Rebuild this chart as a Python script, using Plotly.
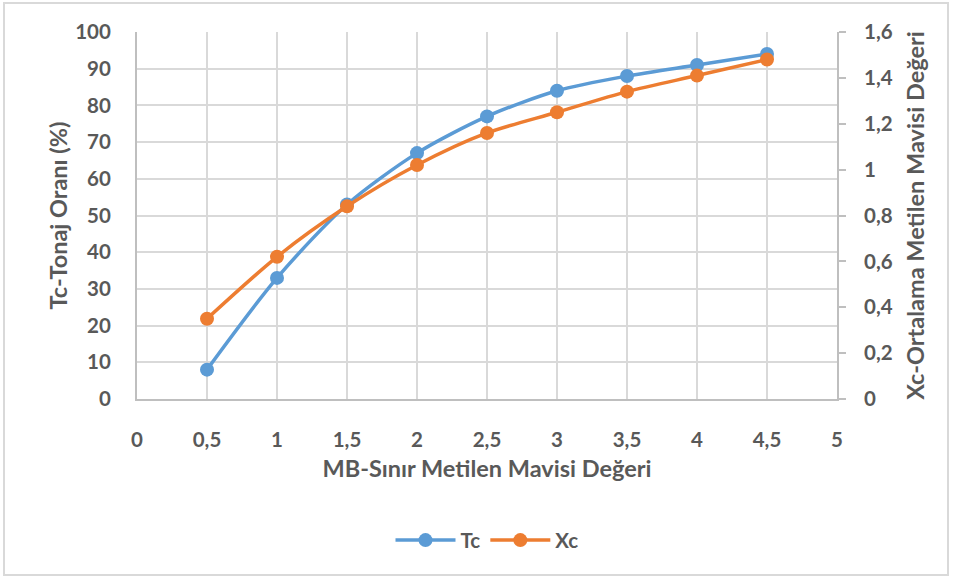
import plotly.graph_objects as go

x_vals = [0.5, 1, 1.5, 2, 2.5, 3, 3.5, 4, 4.5]
tc_vals = [8, 33, 53, 67, 77, 84, 88, 91, 94]
xc_vals = [0.35, 0.62, 0.84, 1.02, 1.16, 1.25, 1.34, 1.41, 1.48]

x_ticks = [0, 0.5, 1, 1.5, 2, 2.5, 3, 3.5, 4, 4.5, 5]
y1_ticks = [0, 10, 20, 30, 40, 50, 60, 70, 80, 90, 100]
y2_ticks = [0, 0.2, 0.4, 0.6, 0.8, 1, 1.2, 1.4, 1.6]

BLUE = "#5B9BD5"
ORANGE = "#ED7D31"
TXT = "#595959"
GRID = "#D9D9D9"
FONT = "Lato"

fig = go.Figure()
fig.add_trace(go.Scatter(x=x_vals, y=tc_vals, name="Tc", mode="lines+markers",
                         line=dict(color=BLUE, width=3.5, shape="spline", smoothing=0.8),
                         marker=dict(color=BLUE, size=14), yaxis="y"))
fig.add_trace(go.Scatter(x=x_vals, y=xc_vals, name="Xc", mode="lines+markers",
                         line=dict(color=ORANGE, width=3.5, shape="spline", smoothing=0.8),
                         marker=dict(color=ORANGE, size=14), yaxis="y2"))

tickfont = dict(family=FONT, size=20.5, color=TXT, weight="bold")
titlefont = dict(family=FONT, size=23.5, color=TXT, weight="bold")

fig.update_layout(
    width=953, height=578,
    margin=dict(l=137, r=116, t=32, b=179),
    paper_bgcolor="white", plot_bgcolor="white",
    separators=",.",
    showlegend=True,
    legend=dict(orientation="h", x=0.5, xanchor="center", y=-0.385, yanchor="middle",
                font=dict(family=FONT, size=20.5, color=TXT, weight="bold"),
                itemwidth=60, traceorder="normal"),
    xaxis=dict(range=[0, 5], tickvals=x_ticks, showgrid=True, gridcolor=GRID, gridwidth=2,
               showline=True, linecolor="#BFBFBF", linewidth=2, zeroline=False,
               tickfont=tickfont, ticks="", ticklabelstandoff=21,
               title=dict(text="MB-Sınır Metilen Mavisi Değeri", font=titlefont, standoff=11)),
    yaxis=dict(range=[0, 100], tickvals=y1_ticks, showgrid=True, gridcolor=GRID, gridwidth=2,
               showline=True, linecolor="#BFBFBF", linewidth=2, zeroline=False,
               tickfont=tickfont, ticks="", ticklabelstandoff=20,
               title=dict(text="Tc-Tonaj Oranı (%)", font=titlefont, standoff=1)),
    yaxis2=dict(range=[0, 1.6], tickvals=y2_ticks, overlaying="y", side="right",
                showgrid=False, showline=True, linecolor="#BFBFBF", linewidth=2, zeroline=False,
                ticks="outside", ticklen=7, tickcolor="#BFBFBF", tickwidth=2,
                tickfont=tickfont, ticklabelstandoff=14,
                title=dict(text="Xc-Ortalama Metilen Mavisi Değeri", font=titlefont, standoff=16)),
    shapes=[dict(type="rect", xref="paper", yref="paper",
                 x0=(4 - 137) / 700, x1=(948 - 137) / 700,
                 y0=(399 - 575) / 367, y1=(399 - 3) / 367,
                 line=dict(color="#D9D9D9", width=2), fillcolor="rgba(0,0,0,0)", layer="below")],
)

fig.write_html("out.html")
